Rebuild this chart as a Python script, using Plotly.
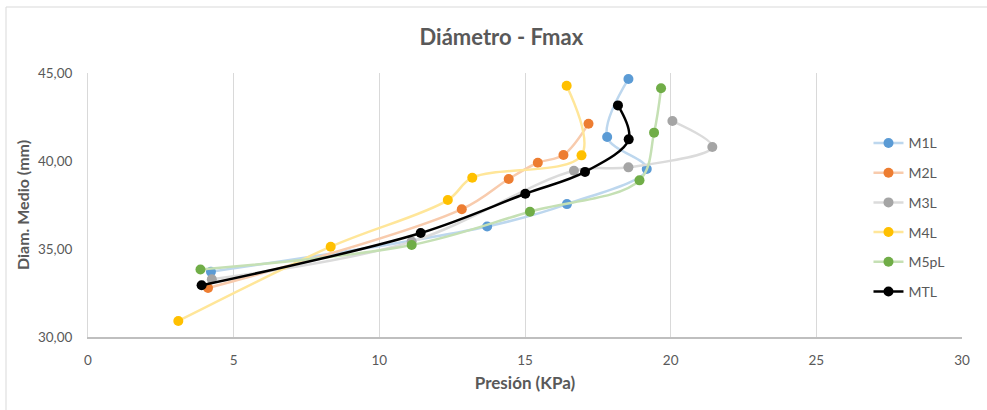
import plotly.graph_objects as go

# Pressure (KPa) vs mean diameter (mm) for each sample
m1l_x = [4.22, 13.70, 16.44, 19.18, 17.82, 18.55]
m1l_y = [33.71, 36.28, 37.55, 39.55, 41.36, 44.66]

m2l_x = [4.12, 12.83, 14.44, 15.44, 16.32, 17.18]
m2l_y = [32.78, 37.26, 38.98, 39.90, 40.34, 42.12]

m3l_x = [4.25, 11.11, 16.68, 18.55, 21.43, 20.06]
m3l_y = [33.28, 35.42, 39.45, 39.64, 40.80, 42.27]

m4l_x = [3.10, 8.33, 12.35, 13.19, 16.94, 16.43]
m4l_y = [30.91, 35.13, 37.78, 39.05, 40.32, 44.28]

m5pl_x = [3.86, 11.11, 15.17, 18.93, 19.43, 19.67]
m5pl_y = [33.84, 35.23, 37.12, 38.90, 41.61, 44.13]

mtl_x = [3.90, 11.42, 15.01, 17.06, 18.56, 18.19]
mtl_y = [32.94, 35.91, 38.14, 39.38, 41.23, 43.16]

series = [
    ("M1L", m1l_x, m1l_y, "#5B9BD5", "#BDD7EE", 2.5),
    ("M2L", m2l_x, m2l_y, "#ED7D31", "#F8CBAD", 2.5),
    ("M3L", m3l_x, m3l_y, "#A5A5A5", "#DBDBDB", 2.5),
    ("M4L", m4l_x, m4l_y, "#FFC000", "#FFE699", 2.5),
    ("M5pL", m5pl_x, m5pl_y, "#70AD47", "#C5E0B4", 2.5),
    ("MTL", mtl_x, mtl_y, "#000000", "#000000", 2.5),
]

fig = go.Figure()
for i, (name, xs, ys, mcol, lcol, lw) in enumerate(series):
    fig.add_trace(go.Scatter(
        x=xs, y=ys, name=name, mode="lines+markers",
        line=dict(color=lcol, width=lw, shape="spline", smoothing=1),
        marker=dict(color=mcol, size=10),
        legendgroup=f"g{i}",
    ))

grey = "#595959"
font_family = "Lato, 'Open Sans', sans-serif"

fig.update_layout(
    width=987, height=410,
    margin=dict(l=88, r=25, t=73, b=73),
    paper_bgcolor="white", plot_bgcolor="white",
    separators=", ",
    font=dict(family=font_family, color=grey, size=13),
    title=dict(text="<b>Diámetro - Fmax</b>", x=0.508, xanchor="center",
               y=1 - 37 / 410, yanchor="middle",
               font=dict(size=22, color=grey, family=font_family)),
    xaxis=dict(
        range=[0, 30], dtick=5, tick0=0,
        showgrid=True, gridcolor="#D9D9D9", gridwidth=1,
        zeroline=False, showline=True, linecolor="#BFBFBF", linewidth=1.5,
        ticks="", ticklabelstandoff=10,
        tickfont=dict(size=13.5, color=grey),
        title=dict(text="<b>Presión (KPa)</b>", standoff=10,
                   font=dict(size=17, color=grey)),
    ),
    yaxis=dict(
        range=[30, 45], dtick=5, tick0=30, tickformat=".2f",
        showgrid=False, zeroline=False,
        showline=True, linecolor="#D9D9D9", linewidth=1,
        ticks="", ticklabelstandoff=12,
        tickfont=dict(size=13.5, color=grey),
        title=dict(text="<b>Diam. Medio (mm)</b>", standoff=4,
                   font=dict(size=16, color=grey)),
    ),
    legend=dict(
        x=0.893, y=0.794, xanchor="left", yanchor="top",
        bgcolor="rgba(255,255,255,0)", borderwidth=0,
        font=dict(size=14, color=grey),
        tracegroupgap=8.5, traceorder="grouped",
        itemwidth=30,
    ),
    shapes=[dict(
        type="rect", xref="paper", yref="paper",
        x0=-82 / 874, x1=1.05, y0=-0.3, y1=(337 - 7) / 264,
        line=dict(color="#D9D9D9", width=1), fillcolor="rgba(0,0,0,0)",
        layer="below",
    )],
)

fig.write_html("out.html")
